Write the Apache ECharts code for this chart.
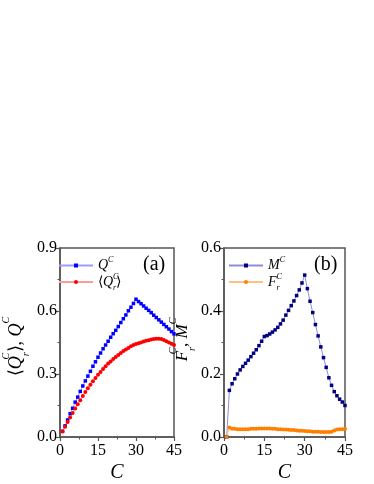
<!DOCTYPE html>
<html><head><meta charset="utf-8">
<script src="https://cdn.jsdelivr.net/npm/echarts@6/dist/echarts.min.js"></script>
<style>html,body{margin:0;padding:0;background:#fff;}#c{width:374px;height:484px;}</style>
</head><body><div id="c"></div>
<script>
const C = [1,2,3,4,5,6,7,8,9,10,11,12,13,14,15,16,17,18,19,20,21,22,23,24,25,26,27,28,29,30,31,32,33,34,35,36,37,38,39,40,41,42,43,44,45];
const QC = [0.027,0.053,0.081,0.111,0.137,0.166,0.190,0.217,0.243,0.267,0.290,0.313,0.337,0.358,0.380,0.400,0.420,0.438,0.456,0.475,0.492,0.508,0.526,0.545,0.563,0.581,0.601,0.618,0.636,0.656,0.645,0.635,0.624,0.613,0.603,0.592,0.580,0.569,0.558,0.547,0.536,0.525,0.514,0.502,0.491];
const QrC = [0.026,0.049,0.072,0.093,0.114,0.136,0.156,0.175,0.195,0.214,0.232,0.249,0.266,0.281,0.296,0.310,0.324,0.337,0.350,0.360,0.371,0.381,0.391,0.400,0.409,0.417,0.424,0.432,0.438,0.443,0.447,0.450,0.455,0.458,0.461,0.464,0.467,0.468,0.468,0.467,0.462,0.456,0.450,0.444,0.438];
const MC = [0,0.148,0.169,0.185,0.200,0.213,0.224,0.234,0.244,0.255,0.266,0.277,0.290,0.304,0.319,0.322,0.327,0.333,0.340,0.348,0.359,0.371,0.387,0.402,0.417,0.432,0.449,0.467,0.489,0.514,0.471,0.431,0.395,0.357,0.321,0.286,0.252,0.221,0.188,0.164,0.144,0.131,0.120,0.111,0.100];
const FC = [0,0.030,0.026,0.026,0.025,0.025,0.025,0.025,0.025,0.026,0.026,0.026,0.027,0.027,0.027,0.027,0.027,0.026,0.026,0.025,0.025,0.024,0.024,0.023,0.022,0.022,0.021,0.020,0.020,0.019,0.018,0.018,0.017,0.017,0.017,0.016,0.016,0.016,0.016,0.017,0.021,0.024,0.025,0.025,0.026];
const xTicks = [0,15,30,45];
const yTicksA = [0.0,0.3,0.6,0.9];
const yTicksB = [0.0,0.2,0.4,0.6];

const pair = (arr) => arr.map((v,i)=>[C[i],v]);
const SERIF = 'Liberation Serif';
const AX = '#555';
function mkRich(fs, ss, lh){
  return {
    t:{fontFamily:SERIF,fontSize:fs,lineHeight:lh,color:'#000'},
    i:{fontFamily:SERIF,fontSize:fs,fontStyle:'italic',lineHeight:lh,color:'#000'},
    sup:{fontFamily:SERIF,fontSize:ss,fontStyle:'italic',lineHeight:ss+1,verticalAlign:'top',align:'left',color:'#000',width:0},
    sup2:{fontFamily:SERIF,fontSize:ss,fontStyle:'italic',lineHeight:ss+1,verticalAlign:'top',color:'#000'},
    sub:{fontFamily:SERIF,fontSize:ss,fontStyle:'italic',lineHeight:ss+1,verticalAlign:'bottom',color:'#000'}
  };
}
const richA = mkRich(18,10,30);
const richB = mkRich(17,10,29);
const lrich = {
  i:{fontFamily:SERIF,fontSize:14,fontStyle:'italic',lineHeight:19,color:'#000'},
  t:{fontFamily:SERIF,fontSize:14,lineHeight:19,color:'#000'},
  sup:{fontFamily:SERIF,fontSize:8,fontStyle:'italic',lineHeight:8,verticalAlign:'top',align:'left',color:'#000',width:0},
  sup2:{fontFamily:SERIF,fontSize:8,fontStyle:'italic',lineHeight:8,verticalAlign:'top',color:'#000'},
  sub:{fontFamily:SERIF,fontSize:8,fontStyle:'italic',lineHeight:8,verticalAlign:'bottom',color:'#000'}
};
const legendNames = {
  QC:'{i|Q}{sup2|C}',
  QrC:'{t|⟨}{i|Q}{sup|C}{sub|r}{t|⟩}',
  MC:'{i|M}{sup2|C}',
  FC:'{i|F}{sup|C}{sub|r}'
};

function xAxisDef(gi){
  return {gridIndex:gi,type:'value',min:0,max:45,interval:15,
    name:'{i|C}',nameLocation:'middle',nameGap:26,nameTextStyle:{rich:{i:{fontFamily:SERIF,fontSize:20,fontStyle:'italic',color:'#000'}}},
    axisLine:{show:true,lineStyle:{color:AX,width:1.5}},
    axisTick:{show:true,length:4,lineStyle:{color:AX,width:1.2}},
    minorTick:{show:true,splitNumber:2,length:2.5,lineStyle:{color:AX,width:1}},
    splitLine:{show:false},
    axisLabel:{fontFamily:SERIF,fontSize:16,color:'#000',margin:6,
      formatter:(v)=>xTicks.includes(v)?String(v):''}};
}
function yAxisDef(gi,max,interval,ticks,name,gap,pad,rich){
  return {gridIndex:gi,type:'value',min:0,max:max,interval:interval,
    name:name,nameLocation:'middle',nameGap:gap,nameRotate:90,nameTextStyle:{rich:rich,padding:pad},
    axisLine:{show:true,lineStyle:{color:AX,width:1.5}},
    axisTick:{show:true,length:4,lineStyle:{color:AX,width:1.2}},
    minorTick:{show:true,splitNumber:2,length:2.5,lineStyle:{color:AX,width:1}},
    splitLine:{show:false},
    axisLabel:{fontFamily:SERIF,fontSize:16,color:'#000',margin:3,
      formatter:(v)=>v.toFixed(1)}};
}
function lineSeries(name,arr,xi,sym,size,mc,lc){
  return {name:name,type:'line',xAxisIndex:xi,yAxisIndex:xi,data:pair(arr),
    symbol:sym,symbolSize:size,showSymbol:true,itemStyle:{color:mc},
    lineStyle:{color:lc,width:1},emphasis:{disabled:true},animation:false,z:3};
}

const chart = echarts.init(document.getElementById('c'),null,{renderer:'canvas'});
chart.setOption({
  animation:false,
  backgroundColor:'#fff',
  grid:[
    {left:51,top:248,width:123,height:197,show:true,borderColor:AX,borderWidth:1.5,containLabel:false},
    {left:224,top:248,width:121,height:197,show:true,borderColor:AX,borderWidth:1.5,containLabel:false}
  ],
  xAxis:[xAxisDef(0),xAxisDef(1)],
  yAxis:[
    yAxisDef(0,0.9,0.3,yTicksA,'{t|⟨}{i|Q}{sup|C}{sub|r}{t|⟩, }{i|Q}{sup2|C}',29,[0,8,0,0],richA),
    yAxisDef(1,0.6,0.2,yTicksB,'{i|F}{sup|C}{sub|r}{t|, }{i|M}{sup2|C}',16,[0,0,0,6],richB)
  ],
  legend:[
    {data:['QC','QrC'],left:58,top:256,orient:'vertical',itemWidth:34,itemHeight:5,itemGap:0,
      formatter:(n)=>legendNames[n],textStyle:{rich:lrich},padding:0},
    {data:['MC','FC'],left:228,top:256,orient:'vertical',itemWidth:34,itemHeight:5,itemGap:0,
      formatter:(n)=>legendNames[n],textStyle:{rich:lrich},padding:0}
  ],
  graphic:[
    {type:'text',left:143,top:255,style:{text:'(a)',font:'20px "Liberation Serif"',fill:'#000'}},
    {type:'text',left:314,top:255,style:{text:'(b)',font:'20px "Liberation Serif"',fill:'#000'}}
  ],
  series:[
    lineSeries('QC',QC,0,'rect',3.5,'#0000ff','#9a9aff'),
    lineSeries('QrC',QrC,0,'circle',4,'#ff0000','#ff9a9a'),
    lineSeries('MC',MC,1,'rect',3.5,'#000080','#8c8cd8'),
    lineSeries('FC',FC,1,'circle',4,'#ff8000','#ffc080')
  ]
});
</script></body></html>
